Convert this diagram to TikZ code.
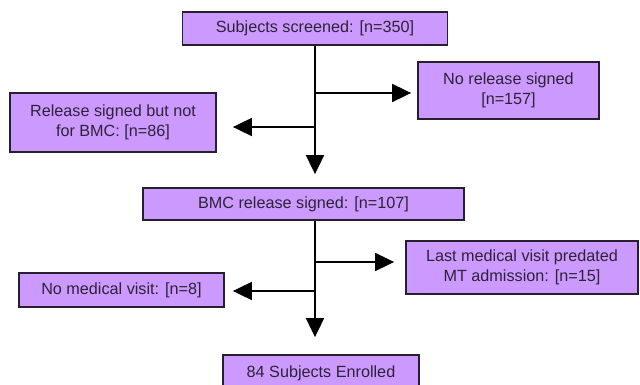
\documentclass[tikz,border=0pt]{standalone}
\usepackage{fontspec}
\setmainfont{Liberation Sans}
\usepackage{xcolor}
\usetikzlibrary{arrows.meta,positioning,calc}
\definecolor{boxlilac}{RGB}{204,153,255}
\definecolor{boxedge}{RGB}{40,30,50}
\definecolor{boxtext}{RGB}{45,35,55}

\begin{document}
\begin{tikzpicture}[x=1pt, y=-1pt,
    font=\fontsize{16.2}{19.5}\selectfont,
    box/.style={draw=boxedge, fill=boxlilac, line width=1.8pt, text=boxtext,
      align=center, inner sep=0pt},
    arr/.style={line width=1.8pt, -{Triangle[length=19pt,width=18pt]}}]
  \useasboundingbox (0,0) rectangle (640,385);
  % ---- boxes (pixel grid, y pointing down) ----
  \node[box, minimum width=265pt, minimum height=33pt] (screen) at (315,28.5) {Subjects screened: [n=350]};
  \node[box, minimum width=181pt, minimum height=57pt] (norel) at (508.5,90.5) {No release signed\\{}[n=157]};
  \node[box, minimum width=206pt, minimum height=59pt] (relnot) at (113,122.5) {Release signed but not\\for BMC: [n=86]};
  \node[box, minimum width=321pt, minimum height=32pt] (bmc) at (303.5,204) {BMC release signed: [n=107]};
  \node[box, minimum width=232pt, minimum height=53pt] (lastvisit) at (522,267.5) {Last medical visit predated\\MT admission: [n=15]};
  \node[box, minimum width=205pt, minimum height=34pt] (nomed) at (121.5,290) {No medical visit: [n=8]};
  \node[box, minimum width=196pt, minimum height=36pt] (enrolled) at (321,373) {84 Subjects Enrolled};
  % ---- first stage: screening ----
  \coordinate (split1) at (315,93);
  \coordinate (split2) at (315,127);
  \draw[arr, shorten >=13pt] (screen.south) -- (screen.south |- bmc.north);
  \draw[arr, shorten >=6pt] (split1) -- (split1 -| norel.west);
  \draw[arr, shorten >=16pt] (split2) -- (split2 -| relnot.east);
  % ---- second stage: medical records ----
  \coordinate (trunk2) at (bmc.south -| screen.south);
  \coordinate (split3) at (315,262);
  \coordinate (split4) at (315,291);
  \draw[arr, shorten >=17pt] (trunk2) -- (trunk2 |- enrolled.north);
  \draw[arr, shorten >=11pt] (split3) -- (split3 -| lastvisit.west);
  \draw[arr, shorten >=8pt] (split4) -- (split4 -| nomed.east);
\end{tikzpicture}
\end{document}
